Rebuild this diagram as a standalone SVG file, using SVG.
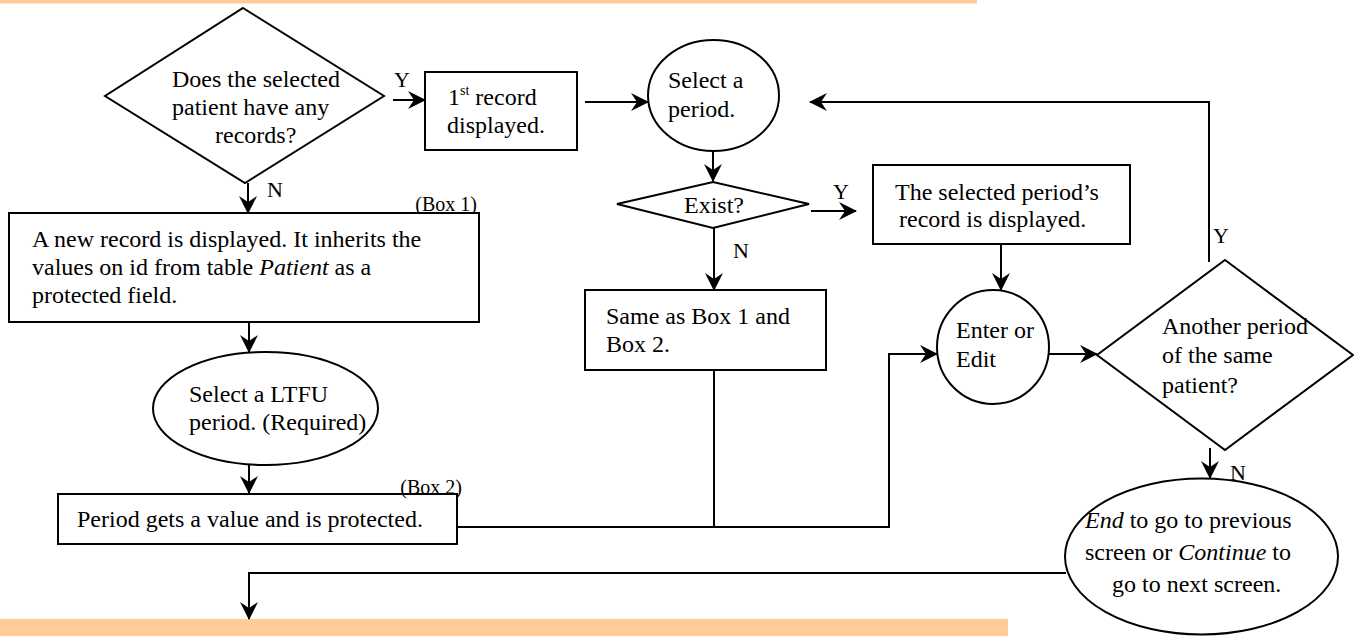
<svg xmlns="http://www.w3.org/2000/svg" width="1354" height="636" viewBox="0 0 1354 636">
<defs>
<style>
.s{fill:#fff;stroke:#000;stroke-width:2}
.c{fill:none;stroke:#000;stroke-width:2}
text{font-family:"Liberation Serif","Times New Roman",serif;font-size:24px;fill:#000}
.lb{font-size:22px}
.bx{font-size:20px}
.sup{font-size:14px}
.i{font-style:italic}
.bar{fill:#FFCC99}
</style>
<marker id="ah" viewBox="0 0 18 18" refX="17" refY="9" markerWidth="18" markerHeight="18" markerUnits="userSpaceOnUse" orient="auto">
<path d="M0,0 L18,9 L0,18 L6,9 Z" fill="#000"/>
</marker>
</defs>
<rect class="bar" x="0" y="0" width="977" height="3.5"/>
<rect class="bar" x="0" y="619" width="1008" height="17"/>

<g id="connectors">
<line class="c" x1="248" y1="183" x2="248" y2="213" marker-end="url(#ah)"/>
<line class="c" x1="393" y1="100" x2="425" y2="100" marker-end="url(#ah)"/>
<line class="c" x1="585" y1="102" x2="648" y2="102" marker-end="url(#ah)"/>
<line class="c" x1="713" y1="151" x2="713" y2="181" marker-end="url(#ah)"/>
<line class="c" x1="811" y1="211" x2="856" y2="211" marker-end="url(#ah)"/>
<line class="c" x1="714" y1="228" x2="714" y2="290" marker-end="url(#ah)"/>
<line class="c" x1="1001" y1="244" x2="1001" y2="290" marker-end="url(#ah)"/>
<line class="c" x1="1049" y1="354" x2="1097" y2="354" marker-end="url(#ah)"/>
<polyline class="c" points="1209,262 1209,102 810,102" marker-end="url(#ah)"/>
<line class="c" x1="1210" y1="448" x2="1210" y2="478" marker-end="url(#ah)"/>
<line class="c" x1="249" y1="322" x2="249" y2="352" marker-end="url(#ah)"/>
<line class="c" x1="249" y1="465" x2="249" y2="493" marker-end="url(#ah)"/>
<polyline class="c" points="457,527 889,527 889,354 937,354" marker-end="url(#ah)"/>
<line class="c" x1="714" y1="370" x2="714" y2="528"/>
<polyline class="c" points="1066,573 249,573 249,619" marker-end="url(#ah)"/>
<text class="lb" x="394" y="87">Y</text>
<text class="lb" x="267" y="197">N</text>
<text class="lb" x="833" y="199">Y</text>
<text class="lb" x="733" y="258">N</text>
<text class="lb" x="1213" y="243">Y</text>
<text class="lb" x="1230" y="480">N</text>
</g>

<g id="q1">
<polygon class="s" points="243,8 384,96 245,183 105,96"/>
<text x="172" y="87">Does the selected</text>
<text x="172" y="115">patient have any</text>
<text x="215" y="143">records?</text>
</g>

<g id="first">
<rect class="s" x="425" y="72" width="152" height="78"/>
<text x="448" y="105">1<tspan class="sup" dy="-10">st</tspan><tspan dy="10"> record</tspan></text>
<text x="447" y="133">displayed.</text>
</g>

<g id="selperiod">
<ellipse class="s" cx="713.5" cy="95.5" rx="65.5" ry="55.5"/>
<text x="668" y="88">Select a</text>
<text x="668" y="117">period.</text>
</g>

<g id="exist">
<polygon class="s" points="617,204 713,182 809,204 713,228"/>
<text x="684" y="213">Exist?</text>
</g>

<g id="selrec">
<rect class="s" x="873" y="165" width="257" height="79"/>
<text x="895" y="200">The selected period’s</text>
<text x="899" y="227">record is displayed.</text>
</g>

<g id="box1">
<text class="bx" x="477" y="211" text-anchor="end">(Box 1)</text>
<rect class="s" x="9" y="213" width="470" height="109"/>
<text x="32" y="247">A new record is displayed. It inherits the</text>
<text x="32" y="275">values on id from table <tspan class="i">Patient</tspan> as a</text>
<text x="32" y="303">protected field.</text>
</g>

<g id="same">
<rect class="s" x="585" y="290" width="241" height="80"/>
<text x="606" y="324">Same as Box 1 and</text>
<text x="606" y="352">Box 2.</text>
</g>

<g id="enter">
<ellipse class="s" cx="993" cy="347" rx="56" ry="57"/>
<text x="956" y="338">Enter or</text>
<text x="956" y="367">Edit</text>
</g>

<g id="q2">
<polygon class="s" points="1225,260 1353,355 1225,450 1097,355"/>
<text x="1162" y="334">Another period</text>
<text x="1162" y="363">of the same</text>
<text x="1162" y="393">patient?</text>
</g>

<g id="ltfu">
<ellipse class="s" cx="265.5" cy="408.5" rx="112.5" ry="56.5"/>
<text x="189" y="402">Select a LTFU</text>
<text x="189" y="430">period. (Required)</text>
</g>

<g id="box2">
<rect class="s" x="58" y="494" width="399" height="50"/>
<text class="bx" x="462" y="494" text-anchor="end">(Box 2)</text>
<text x="77" y="527">Period gets a value and is protected.</text>
</g>

<g id="end">
<ellipse class="s" cx="1201.5" cy="556.5" rx="136.5" ry="78"/>
<text x="1085" y="528"><tspan class="i">End</tspan> to go to previous</text>
<text x="1085" y="560">screen or <tspan class="i">Continue</tspan> to</text>
<text x="1112" y="592">go to next screen.</text>
</g>
</svg>
